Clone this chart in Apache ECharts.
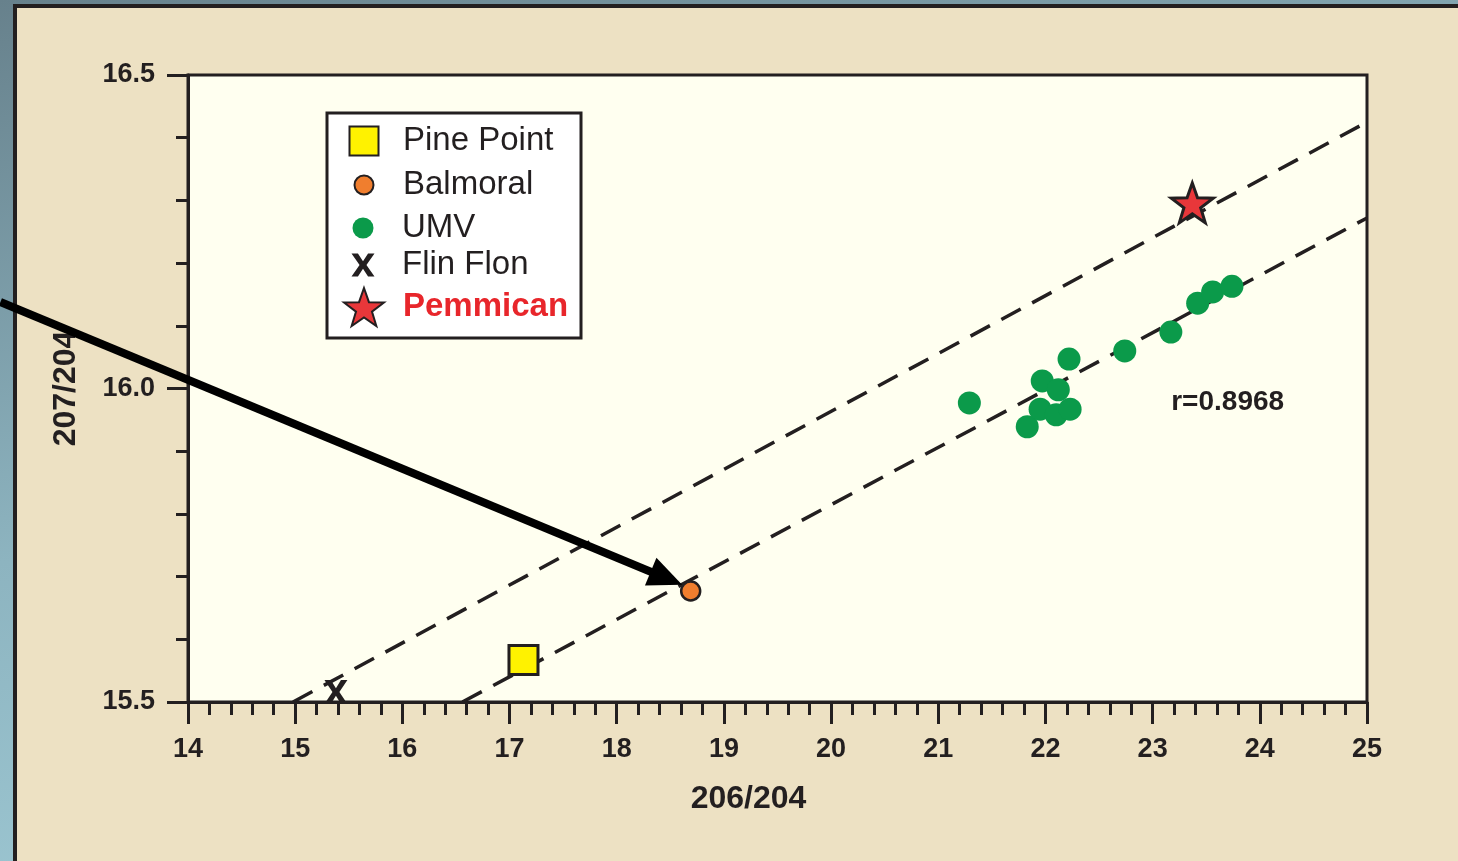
<!DOCTYPE html>
<html>
<head>
<meta charset="utf-8">
<title>207/204 vs 206/204</title>
<script src="https://cdn.jsdelivr.net/npm/echarts@6/dist/echarts.min.js"></script>
<style>
  html, body { margin: 0; padding: 0; width: 100%; height: 100%; overflow: hidden;
    background: linear-gradient(165deg, #67818c 0%, #8db4c0 45%, #a9d6e1 100%); }
  #panel { position: absolute; left: 13px; top: 4px; right: 0; bottom: 0;
    background: #ede1c3; border-left: 4px solid #231f20; border-top: 4px solid #231f20; }
  #chart { position: absolute; left: 0; top: 0; width: 1458px; height: 861px; }
</style>
</head>
<body>
<div id="panel"></div>
<div id="chart"></div>
<script>
// values: [206/204, 207/204]
var pinePoint = [[17.13, 15.567]];
var balmoral = [[18.69, 15.677]];
var umv = [
  [21.29, 15.977], [21.83, 15.939], [21.97, 16.012], [21.95, 15.967],
  [22.10, 15.958], [22.12, 15.998], [22.23, 15.967], [22.22, 16.047],
  [22.74, 16.060], [23.17, 16.090], [23.42, 16.136], [23.56, 16.154],
  [23.74, 16.163]
];
var flinFlon = [[15.38, 15.516]];
var pemmican = [[23.37, 16.296]];
var upperTrend = [[14.98, 15.5], [25, 16.425]];
var lowerTrend = [[16.56, 15.5], [25, 16.272]];
var corrText = 'r=0.8968';
var corrAt = [23.70, 15.978];
var arrowFrom = [12.25, 16.138];
var arrowTo = [18.61, 15.687];

var ink = '#231f20';
var starPath = 'path://M50,0L61.8,33.8L97.6,34.5L69,56.2L79.4,90.5L50,70L20.6,90.5L31,56.2L2.4,34.5L38.2,33.8Z';
var crossPath = 'path://M0,0L2.8,0L5,3.4L7.2,0L10,0L6.5,5L10,10L7.2,10L5,6.6L2.8,10L0,10L3.5,5Z';
var squarePath = 'path://M0,0H10V10H0Z';

var chart = echarts.init(document.getElementById('chart'));

// one legend per row so each icon can have its own size;
// left is set so that every icon is centred on x = 363
var rows = [
  { name: 'Pine Point', y: 141, h: 29, w: 29, icon: squarePath, color: ink, weight: 'normal' },
  { name: 'Balmoral', y: 185, h: 19, w: 19, icon: 'circle', color: ink, weight: 'normal' },
  { name: 'UMV', y: 228, h: 21, w: 21, icon: 'circle', color: ink, weight: 'normal' },
  { name: 'Flin Flon', y: 265, h: 23, w: 23, icon: crossPath, color: ink, weight: 'normal' },
  { name: 'Pemmican', y: 306, h: 38, w: 40, icon: starPath, color: '#e8262b', weight: 'bold' }
];
var legends = rows.map(function (r) {
  return {
    data: [{ name: r.name, icon: r.icon }],
    left: 363 - r.w / 2,
    top: r.y - Math.max(r.h, 33) / 2,
    padding: 0,
    itemWidth: 68,
    itemHeight: r.h,
    selectedMode: false,
    z: 10,
    textStyle: { fontFamily: 'Liberation Sans, Arial, sans-serif', fontSize: 33, color: r.color, fontWeight: r.weight }
  };
});

var axisFont = { fontFamily: 'Liberation Sans, Arial, sans-serif', fontWeight: 'bold', fontSize: 27, color: ink };

var option = {
  animation: false,
  backgroundColor: 'transparent',
  legend: legends,
  grid: {
    left: 188, right: 91, top: 75, bottom: 159,
    show: true, backgroundColor: '#fffff0', borderColor: ink, borderWidth: 3
  },
  xAxis: {
    type: 'value', min: 14, max: 25, interval: 1,
    name: '206/204', nameLocation: 'middle', nameGap: 81,
    nameTextStyle: { fontFamily: 'Liberation Sans, Arial, sans-serif', fontWeight: 'bold', fontSize: 32, color: ink,
      padding: [0, 58, 0, 0] },
    axisLine: { show: true, lineStyle: { color: ink, width: 3 } },
    axisTick: { show: true, length: 22, lineStyle: { color: ink, width: 3 } },
    minorTick: { show: true, splitNumber: 5, length: 13, lineStyle: { color: ink, width: 3 } },
    axisLabel: Object.assign({ margin: 34 }, axisFont),
    splitLine: { show: false }
  },
  yAxis: {
    type: 'value', min: 15.5, max: 16.5, interval: 0.5,
    name: '207/204', nameLocation: 'middle', nameGap: 106,
    nameTextStyle: { fontFamily: 'Liberation Sans, Arial, sans-serif', fontWeight: 'bold', fontSize: 32, color: ink },
    axisLine: { show: true, lineStyle: { color: ink, width: 3 } },
    axisTick: { show: true, length: 21, lineStyle: { color: ink, width: 3 } },
    minorTick: { show: true, splitNumber: 5, length: 12, lineStyle: { color: ink, width: 3 } },
    axisLabel: Object.assign({ margin: 33, formatter: function (v) { return v.toFixed(1); } }, axisFont),
    splitLine: { show: false }
  },
  series: [
    { name: 'upper', type: 'line', data: upperTrend, showSymbol: false, symbol: 'none', z: 1,
      lineStyle: { color: ink, width: 3.5, type: [22, 13] } },
    { name: 'lower', type: 'line', data: lowerTrend, showSymbol: false, symbol: 'none', z: 1,
      lineStyle: { color: ink, width: 3.5, type: [22, 13] } },
    { name: 'Flin Flon', type: 'scatter', data: flinFlon, symbol: crossPath, symbolSize: [23, 24], z: 3,
      itemStyle: { color: ink, opacity: 1 } },
    { name: 'Pine Point', type: 'scatter', data: pinePoint, symbol: 'rect', symbolSize: 29, z: 3,
      itemStyle: { color: '#fff200', borderColor: ink, borderWidth: 3, opacity: 1 } },
    { name: 'Balmoral', type: 'scatter', data: balmoral, symbol: 'circle', symbolSize: 19, z: 3,
      itemStyle: { color: '#f07e2e', borderColor: ink, borderWidth: 2.5, opacity: 1 } },
    { name: 'UMV', type: 'scatter', data: umv, symbol: 'circle', symbolSize: 23, z: 3,
      itemStyle: { color: '#0b9a4a', opacity: 1 } },
    { name: 'Pemmican', type: 'scatter', data: pemmican, symbol: starPath, symbolSize: 42, symbolKeepAspect: true, z: 4,
      itemStyle: { color: '#e8373a', borderColor: ink, borderWidth: 3, opacity: 1 } }
  ]
};
chart.setOption(option);

// annotations placed through the grid's own scales
var a = chart.convertToPixel({ gridIndex: 0 }, arrowFrom);
var b = chart.convertToPixel({ gridIndex: 0 }, arrowTo);
var dx = b[0] - a[0], dy = b[1] - a[1];
var len = Math.sqrt(dx * dx + dy * dy);
var ux = dx / len, uy = dy / len;
var headLen = 34, headHalf = 15;
var base = [b[0] - ux * headLen, b[1] - uy * headLen];
var c = chart.convertToPixel({ gridIndex: 0 }, corrAt);

chart.setOption({
  graphic: [
    { type: 'rect', z: 5, shape: { x: 327, y: 113, width: 254, height: 225 },
      style: { fill: '#ffffff', stroke: ink, lineWidth: 3 } },
    { type: 'text', z: 6, x: c[0], y: c[1],
      style: { text: corrText, fill: ink, font: 'bold 28px "Liberation Sans", Arial, sans-serif',
        align: 'center', verticalAlign: 'middle' } },
    { type: 'line', z: 20, shape: { x1: a[0], y1: a[1], x2: base[0] + ux * 2, y2: base[1] + uy * 2 },
      style: { stroke: '#000000', lineWidth: 8 } },
    { type: 'polygon', z: 20,
      shape: { points: [
        [b[0], b[1]],
        [base[0] - uy * headHalf, base[1] + ux * headHalf],
        [base[0] + uy * headHalf, base[1] - ux * headHalf]
      ] },
      style: { fill: '#000000' } }
  ]
});

window.addEventListener('resize', function () {
  chart.resize();
});
</script>
</body>
</html>
